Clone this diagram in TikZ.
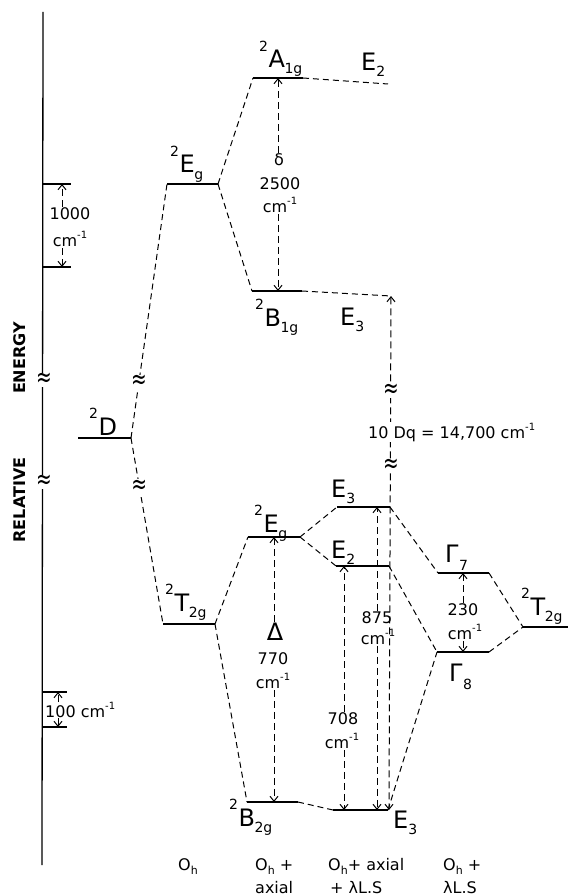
\documentclass[tikz,border=0pt]{standalone}
\usepackage{fontspec}
\usepackage{graphicx}
\setmainfont{DejaVu Sans}
\usetikzlibrary{arrows.meta}
\newcommand{\supsz}{\fontsize{14}{14}\selectfont}
\newcommand{\lbl}[3]{\raisebox{0.68em}{\supsz #1}\kern0.5pt #2\kern-0.5pt\raisebox{-0.25em}{\supsz #3}}
\newcommand{\cmi}{cm\raisebox{0.5em}{\fontsize{10}{10}\selectfont -1}}
\newcommand{\Oh}{O\raisebox{-0.25em}{\fontsize{11}{11}\selectfont h}}
\newcommand{\wg}{\scalebox{1.1}[1.6]{≈}}
\begin{document}
\begin{tikzpicture}[x=1pt,y=-1pt,
  lvl/.style={line width=1.7pt},
  dl/.style={line width=1pt, dash pattern=on 6pt off 4pt},
  arr/.style={line width=1pt, dash pattern=on 7pt off 4pt, -{Straight Barb[length=5pt,width=8pt]}},
  darr/.style={arr, {Straight Barb[length=5pt,width=8pt]}-{Straight Barb[length=5pt,width=8pt]}},
  lab/.style={font=\fontsize{24}{24}\selectfont, inner sep=0pt, anchor=base west},
  num/.style={font=\fontsize{16}{16}\selectfont, inner sep=1pt, fill=white},
  bot/.style={font=\fontsize{16}{16}\selectfont, inner sep=0pt, anchor=base west},
  wig/.style={font=\fontsize{17}{17}\selectfont, inner sep=0.5pt, fill=white},
  axt/.style={font=\fontsize{16}{16}\selectfont\bfseries, rotate=90, inner sep=0pt},
]
\useasboundingbox (0,0) rectangle (568,896);

% ---------- vertical axis ----------
\coordinate (axt) at (43,12);
\coordinate (axb) at (42,865);
\draw[line width=1.3pt] (axt) -- (axb);
\node[wig] (axw1) at (44,380) {\wg};
\node[wig] (axw2) at (44,482) {\wg};
\node[axt] (energy) at (20,358) {ENERGY};
\node[axt] (relative) at (20,500) {RELATIVE};

% 1000 cm-1 scale
\coordinate (t1a) at (43,184); \coordinate (t1b) at (71,184);
\coordinate (t2a) at (43,267); \coordinate (t2b) at (71,267);
\draw[line width=1.3pt] (t1a) -- (t1b);
\draw[line width=1.3pt] (t2a) -- (t2b);
\coordinate (k1) at (62,184); \coordinate (k2) at (62,267);
\node[num] (n1000) at (70,214) {1000};
\node[num] (c1000) at (70,239) {\cmi};
\draw[arr] (k1 |- n1000.north) -- (k1);
\draw[arr] (k2 |- c1000.south) -- (k2);

% 100 cm-1 scale
\coordinate (s1a) at (42,692); \coordinate (s1b) at (67,692);
\coordinate (s2a) at (42,727); \coordinate (s2b) at (67,727);
\draw[line width=1.3pt] (s1a) -- (s1b);
\draw[line width=1.3pt] (s2a) -- (s2b);
\coordinate (m1) at (58,692); \coordinate (m2) at (58,727);
\node[num, anchor=west, inner sep=0pt] (n100) at (45,710) {100 \cmi};
\draw[arr] (m1 |- n100.north) -- (m1);
\draw[arr] (m2 |- n100.south) -- (m2);

% ---------- levels ----------
\coordinate (Dl) at (78,438);   \coordinate (Dr) at (131,438);
\coordinate (EgOl) at (167,184); \coordinate (EgOr) at (218,184);
\coordinate (TOl) at (163,624);  \coordinate (TOr) at (215,624);
\coordinate (A1l) at (253,78);   \coordinate (A1r) at (303,78);
\coordinate (E2t) at (388,84);
\coordinate (B1l) at (252,291);  \coordinate (B1r) at (302,291);
\coordinate (E3t) at (391,296);
\coordinate (Egxl) at (248,537); \coordinate (Egxr) at (300,537);
\coordinate (B2l) at (247,802);  \coordinate (B2r) at (298,802);
\coordinate (E3ml) at (337,507); \coordinate (E3mr) at (390,507);
\coordinate (E2ml) at (336,566); \coordinate (E2mr) at (389,566);
\coordinate (E3bl) at (333,810); \coordinate (E3br) at (388,810);
\coordinate (G7l) at (438,573);  \coordinate (G7r) at (489,573);
\coordinate (G8l) at (437,652);  \coordinate (G8r) at (489,652);
\coordinate (T2l) at (523,627);  \coordinate (T2r) at (568,627);

\draw[lvl] (Dl) -- (Dr);
\draw[lvl] (EgOl) -- (EgOr);
\draw[lvl] (TOl) -- (TOr);
\draw[lvl] (A1l) -- (A1r);
\draw[lvl] (B1l) -- (B1r);
\draw[lvl] (Egxl) -- (Egxr);
\draw[lvl] (B2l) -- (B2r);
\draw[lvl] (E3ml) -- (E3mr);
\draw[lvl] (E2ml) -- (E2mr);
\draw[lvl] (E3bl) -- (E3br);
\draw[lvl] (G7l) -- (G7r);
\draw[lvl] (G8l) -- (G8r);
\draw[lvl] (T2l) -- (T2r);

% ---------- correlation lines ----------
\draw[dl] (Dr) -- node[wig, pos=0.22] (w1) {\wg} (EgOl);
\draw[dl] (Dr) -- node[wig, pos=0.26] (w2) {\wg} (TOl);
\draw[dl] (EgOr) -- (A1l);
\draw[dl] (EgOr) -- (B1l);
\draw[dl] (A1r) -- (E2t);
\draw[dl] (B1r) -- (E3t);
\draw[dl] (TOr) -- (Egxl);
\draw[dl] (TOr) -- (B2l);
\draw[dl] (Egxr) -- (E3ml);
\draw[dl] (Egxr) -- (E2ml);
\draw[dl] (B2r) -- (E3bl);
\draw[dl] (E3mr) -- (G7l);
\draw[dl] (E2mr) -- (G8l);
\draw[dl] (E3br) -- (G8l);
\draw[dl] (G7r) -- (T2l);
\draw[dl] (G8r) -- (T2l);

% ---------- level labels ----------
\node[lab] (lD) at (89,435) {\lbl{2}{D}{}};
\node[lab] (lEgO) at (170,173) {\lbl{2}{E}{g}};
\node[lab] (lTO) at (165,611) {\lbl{2}{T}{2g}};
\node[lab] (lA1) at (259,68) {\lbl{2}{A}{1g}};
\node[lab] (lE2t) at (361,71) {E\raisebox{-0.25em}{\supsz 2}};
\node[lab] (lB1) at (255,326) {\lbl{2}{B}{1g}};
\node[lab] (lE3t) at (340,325) {E\raisebox{-0.25em}{\supsz 3}};
\node[lab] (lEgx) at (254,532) {\lbl{2}{E}{g}};
\node[lab] (lE3m) at (331,497) {E\raisebox{-0.25em}{\supsz 3}};
\node[lab] (lE2m) at (331,558) {E\raisebox{-0.25em}{\supsz 2}};
\node[lab] (lG7) at (445,562) {Γ\kern0.5pt\raisebox{-0.35em}{\supsz 7}};
\node[lab] (lG8) at (449,681) {Γ\kern0.5pt\raisebox{-0.35em}{\supsz 8}};
\node[lab] (lT2) at (521,615) {\lbl{2}{T}{2g}};
\node[lab] (lB2) at (229,826) {\lbl{2}{B}{2g}};
\node[lab] (lE3b) at (393,828) {E\raisebox{-0.25em}{\supsz 3}};

% ---------- splitting arrows ----------
% delta
\coordinate (pd1) at (278,78); \coordinate (pd2) at (278,291);
\node[num] (nd) at (279,160) {δ};
\node[num] (nd2) at (280,184) {2500};
\node[num] (nd3) at (280,205) {\cmi};
\draw[arr] (pd1 |- nd.north) -- (pd1);
\draw[arr] (pd2 |- nd3.south) -- (pd2);

% Delta
\coordinate (pD1) at (274,537); \coordinate (pD2) at (274,802);
\node[num, font=\fontsize{24}{24}\selectfont] (nD) at (275,632) {Δ};
\node[num] (nD2) at (273,659) {770};
\node[num] (nD3) at (273,681) {\cmi};
\draw[arr] (pD1 |- nD.north) -- (pD1);
\draw[arr] (pD2 |- nD3.south) -- (pD2);

% 708
\coordinate (p71) at (344,566); \coordinate (p72) at (344,810);
\node[num] (n708) at (343,719) {708};
\node[num] (c708) at (342,741) {\cmi};
\draw[arr] (p71 |- n708.north) -- (p71);
\draw[arr] (p72 |- c708.south) -- (p72);

% 875
\coordinate (p81) at (377,507); \coordinate (p82) at (377,810);
\node[num] (n875) at (377,618) {875};
\node[num] (c875) at (378,637) {\cmi};
\draw[arr] (p81 |- n875.north) -- (p81);
\draw[arr] (p82 |- c875.south) -- (p82);

% 230
\coordinate (p21) at (463,573); \coordinate (p22) at (463,652);
\node[num] (n230) at (463,610) {230};
\node[num] (c230) at (465,632) {\cmi};
\draw[arr] (p21 |- n230.north) -- (p21);
\draw[arr] (p22 |- c230.south) -- (p22);

% 10 Dq
\coordinate (dqb) at (389,810);
\draw[darr] (E3t) -- (dqb);
\node[wig] (w3) at (391,391) {\wg};
\node[wig] (w4) at (391,466) {\wg};
\node[num, anchor=base west, inner sep=1pt] (ndq) at (367,438) {10 Dq = 14,700 \cmi};

% ---------- bottom labels ----------
\node[bot] (b1) at (178,870) {\Oh};
\node[bot] (b2) at (255,870) {\Oh\ +};
\node[bot] (b2b) at (255,893) {axial};
\node[bot] (b3) at (328,870) {\Oh+ axial};
\node[bot] (b3b) at (330,893) {+ λL.S};
\node[bot] (b4) at (443,870) {\Oh\ +};
\node[bot] (b4b) at (443,893) {λL.S};
\end{tikzpicture}
\end{document}
